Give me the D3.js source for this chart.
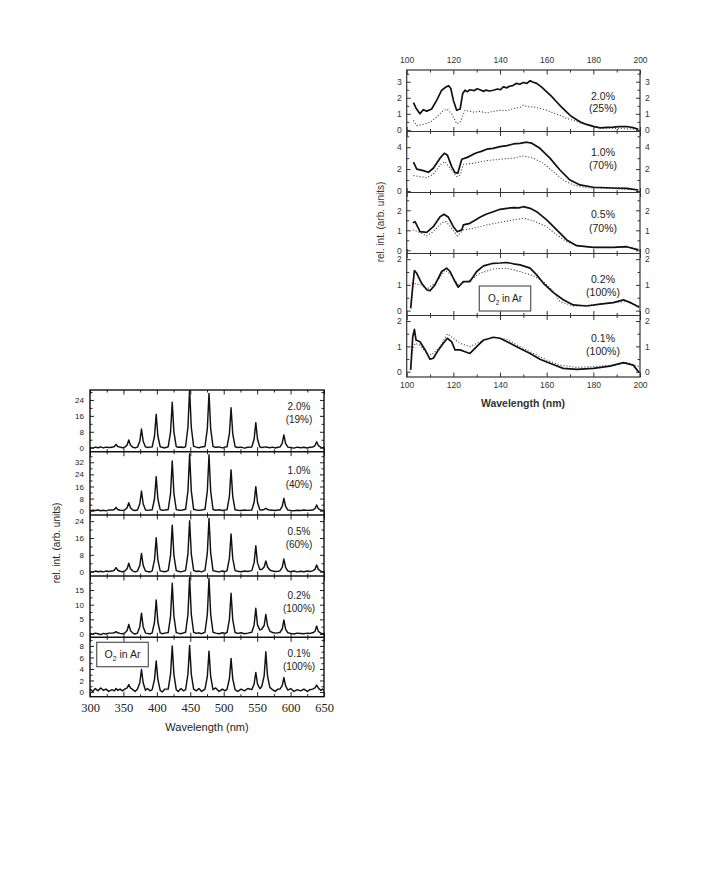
<!DOCTYPE html>
<html><head><meta charset="utf-8">
<script src="https://cdn.jsdelivr.net/npm/d3@7"></script>
<style>body{margin:0;background:#fff}</style>
</head><body><svg id="c" width="701" height="883"></svg>
<script>
// ---------------- DATA ----------------
// Upper figure (VUV, 100-200 nm): solid and dotted spectra per O2 concentration
const vuvConc = ["2.0%", "1.0%", "0.5%", "0.2%", "0.1%"];
const vuvScale = ["(25%)", "(70%)", "(70%)", "(100%)", "(100%)"];
const vuvXTicks = [100, 120, 140, 160, 180, 200];

const u20s = [[102.9,1.7],[104,1.35],[105.7,1.0],[107.1,1.26],[108.6,1.17],[110.7,1.3],[112.9,1.85],[115,2.47],[116.9,2.68],[118,2.75],[118.9,2.58],[120,1.85],[121.4,1.22],[122.9,1.3],[124,2.26],[125,2.47],[126,2.38],[127.1,2.5],[129,2.45],[130.2,2.56],[131.4,2.5],[133,2.4],[134,2.48],[135.5,2.42],[137.1,2.47],[139,2.55],[140.2,2.5],[141.4,2.68],[143,2.62],[144,2.72],[145.5,2.76],[147.1,2.9],[148.5,2.84],[150,2.95],[151.5,2.9],[152.9,3.06],[154,2.98],[155.7,2.9],[158,2.65],[160,2.37],[162,2.1],[164.3,1.74],[166.5,1.4],[168.6,1.11],[170.5,0.85],[172.9,0.63],[175,0.45],[177.1,0.34],[180,0.22],[182.9,0.13],[186,0.16],[188.6,0.17],[191,0.2],[194.3,0.21],[197,0.14],[199.3,0.04]];
const u20d = [[102.9,0.59],[104.3,0.27],[107.1,0.34],[110,0.48],[112.9,0.8],[115.7,1.22],[117.4,1.28],[119.3,1.0],[120.7,0.6],[121.4,0.38],[122.9,0.48],[125,1.22],[128.6,1.11],[131.4,1.15],[134.3,1.05],[137.1,1.15],[140,1.22],[142.9,1.2],[145.7,1.32],[148.6,1.4],[150,1.53],[152,1.45],[154.3,1.43],[157,1.35],[160,1.22],[162.9,1.05],[165.7,0.9],[168.6,0.72],[171.4,0.59],[174.3,0.45],[177.1,0.31],[180,0.2],[182.9,0.13],[188,0.1],[191.4,0.08],[195,0.06],[199.3,0.02]];

const u10s = [[102.9,2.63],[104.3,2.0],[107.1,1.86],[109.3,1.71],[111.4,2.08],[114.3,3.0],[116.1,3.45],[117.4,3.3],[119.3,2.23],[120.7,1.68],[121.9,1.62],[123.6,2.9],[125.7,3.05],[128,3.3],[130,3.5],[132,3.62],[134.3,3.82],[137,3.9],[140,4.06],[143,4.15],[145.7,4.3],[148.5,4.36],[151.4,4.46],[153.6,4.37],[157.1,3.9],[161.4,3.0],[165.7,1.92],[170,1.0],[174.3,0.55],[180,0.34],[188.6,0.27],[194.3,0.24],[199.3,0.09]];
const u10d = [[102.9,1.4],[105.7,1.31],[108.6,1.22],[111.4,1.53],[114.3,2.38],[116.4,2.69],[118.6,2.08],[121.4,1.31],[122.9,1.47],[124.3,2.44],[128.6,2.53],[134.3,2.78],[140,2.9],[145.7,3.0],[150,3.2],[154.3,3.0],[158.6,2.53],[162.9,1.77],[167.1,1.0],[171.4,0.55],[177.1,0.3],[185.7,0.24],[199.3,0.09]];

const u05s = [[102.6,1.38],[103.6,1.43],[105.7,0.93],[108.6,0.9],[111.4,1.18],[114.3,1.68],[116,1.8],[117.9,1.65],[120,1.18],[121.7,0.93],[123.6,1.02],[124.3,1.27],[127.1,1.35],[131.4,1.65],[134,1.8],[137.1,1.93],[140,2.05],[143,2.1],[145.7,2.13],[148,2.12],[150,2.18],[152.9,2.1],[155.7,1.93],[160,1.52],[164.3,1.02],[168.6,0.52],[172.9,0.23],[180,0.15],[188.6,0.15],[194.3,0.18],[199.3,0.02]];
const u05d = [[102.6,1.02],[105,0.93],[108.6,0.72],[111.4,0.93],[115,1.38],[116.9,1.43],[119.3,1.1],[121.7,0.72],[124.3,1.02],[128.6,1.1],[134.3,1.27],[140,1.4],[145.7,1.52],[150,1.6],[154.3,1.48],[160,1.18],[164.3,0.77],[168.6,0.43],[172.9,0.23],[180,0.15],[188.6,0.14],[194.3,0.16],[199.3,0.03]];

const u02s = [[101.7,0.09],[102.6,0.94],[103.3,1.56],[104.3,1.45],[106.4,1.06],[108.6,0.81],[110,0.77],[112.1,1.0],[115,1.52],[117.1,1.65],[118.6,1.52],[120.7,1.13],[122.1,0.91],[124.3,1.13],[127.1,1.13],[130,1.52],[132.9,1.74],[137.1,1.84],[140,1.85],[142.9,1.87],[145.7,1.82],[148.6,1.78],[152.9,1.65],[155.7,1.39],[158.6,1.06],[162.9,0.7],[167.1,0.42],[171.4,0.22],[177.1,0.18],[182.9,0.25],[188.6,0.31],[192.9,0.42],[196.4,0.29],[199.7,0.13]];
const u02d = [[102.1,1.06],[104.3,1.04],[106.4,0.98],[108.6,0.83],[112.9,1.13],[116.4,1.58],[118.6,1.43],[122.1,1.0],[127.1,1.19],[131.4,1.45],[137.1,1.62],[142.9,1.65],[148.6,1.52],[154.3,1.35],[158.6,1.13],[162.9,0.74],[165.7,0.35],[171.4,0.18],[180,0.22],[188.6,0.32],[194.3,0.35],[199.7,0.16]];

const u01s = [[101.7,0.07],[102.6,1.38],[103.3,1.67],[104,1.25],[105.7,1.18],[107.9,0.86],[110,0.49],[111.4,0.53],[113.6,0.86],[115.7,1.12],[117.4,1.32],[119.3,1.18],[120.7,0.86],[122.9,0.86],[125,0.79],[127.1,0.72],[130,0.99],[132.9,1.25],[135,1.3],[137.1,1.36],[140,1.32],[144.3,1.12],[148.6,0.92],[152.9,0.72],[157.1,0.49],[161.4,0.33],[167.1,0.13],[172.9,0.09],[180,0.13],[187.1,0.22],[192.9,0.36],[197.1,0.26],[199.7,-0.04]];
const u01d = [[102.1,0.72],[103.6,1.12],[105.7,1.05],[108.6,0.72],[110.7,0.66],[114.3,0.99],[117.4,1.49],[120,1.32],[122.9,1.12],[127.1,0.99],[131.4,1.18],[137.1,1.36],[142.9,1.28],[148.6,0.99],[154.3,0.72],[160,0.46],[165.7,0.26],[172.9,0.17],[180,0.2],[188.6,0.26],[194.3,0.36],[199.7,0.2]];

// Lower figure (visible, 300-650 nm): spectra sampled on a common wavelength grid
const visConc = ["2.0%", "1.0%", "0.5%", "0.2%", "0.1%"];
const visScale = ["(19%)", "(40%)", "(60%)", "(100%)", "(100%)"];
const visXTicks = [300, 350, 400, 450, 500, 550, 600, 650];
const visNm = [300,304,308,312,316,320,324,328, 333,336.5,339,341.5,345, 348.5, 352,355.5,358,360.5,364, 367.5, 371,374.5,377,379.5,383, 386,390, 393,396.5,399,401.5,405, 408,412, 417,420.5,423,425.5,429, 432,436,440, 443,446.5,449,451.5,455, 459,463,467, 472,475.5,478,480.5,484, 488,493,498,502, 505,508.5,511,513.5,517, 521,526,531,536, 542,545.5,548,550.5,554, 555.5, 557,560.5,563,565.5,569, 573,577,581, 584,587.5,590,592.5,596, 600,605,610,615,620,625,629, 633,636.5,639,641.5,645, 648,650];
const vis20 = [0.2,-0.2,0.3,0.0,0.4,-0.1,0.3,0.1, 0.2,0.6,1.7,0.6,0.3, 0.0, 0.3,1.4,3.9,1.4,0.2, -0.1, 0.3,3.3,9.4,3.3,0.4, 0.1,0.3, 0.4,5.9,16.8,5.9,0.5, 0.2,-0.1, 0.5,8.0,22.8,8.0,0.6, 0.2,0.4,0.1, 0.6,10.3,29.5,10.3,0.7, 0.3,0.0,0.4, 0.6,9.6,27.3,9.6,0.6, 0.2,0.4,-0.1,0.3, 0.5,7.0,20.1,7.0,0.5, 0.1,0.3,-0.2,0.2, 0.4,4.4,12.6,4.4,0.4, 0.2, 0.1,0.3,0.4,0.2,0.0, 0.3,-0.1,0.2, 0.3,2.2,6.4,2.2,0.3, 0.1,-0.2,0.3,0.0,0.2,-0.1,0.2, 0.3,1.1,3.0,1.1,0.3, 0.0,0.2];
const vis10 = [-0.2,0.3,0.1,0.5,0.0,0.3,-0.1,0.4, 0.4,0.8,2.2,0.8,0.3, 0.2, 0.4,1.9,5.3,1.9,0.4, 0.1, 0.5,4.6,13.0,4.6,0.5, 0.2,0.4, 0.6,7.9,22.5,7.9,0.7, 0.3,0.5, 0.8,11.5,32.9,11.5,0.8, 0.4,0.2,0.6, 0.9,13.1,37.5,13.1,0.9, 0.5,0.2,0.4, 0.9,13.0,37.0,13.0,0.8, 0.3,0.6,0.1,0.4, 0.7,9.5,27.0,9.5,0.6, 0.3,0.1,0.4,0.2, 0.5,5.6,15.9,5.6,0.6, 0.5, 0.5,0.8,1.5,0.8,0.4, 0.3,0.1,0.4, 0.4,2.9,8.2,2.9,0.4, 0.2,0.0,0.3,0.1,0.4,0.2,0.3, 0.4,1.3,3.8,1.3,0.4, 0.2,0.3];
const vis05 = [0.1,-0.2,0.3,0.0,0.2,-0.1,0.3,0.1, 0.3,0.7,1.9,0.7,0.2, 0.0, 0.3,1.4,4.0,1.4,0.3, -0.1, 0.3,3.0,8.7,3.0,0.3, 0.1,-0.1, 0.4,5.6,16.1,5.6,0.4, 0.2,0.0, 0.5,7.7,22.1,7.7,0.5, 0.2,-0.1,0.3, 0.6,8.5,24.2,8.5,0.6, 0.1,0.3,-0.1, 0.6,8.9,25.3,8.9,0.5, 0.2,-0.1,0.3,0.0, 0.5,6.3,17.9,6.3,0.5, 0.2,0.0,0.3,0.1, 0.5,4.3,12.3,4.3,1.0, 1.0, 1.1,2.2,5.1,2.2,0.8, 0.3,0.1,0.2, 0.4,2.1,6.0,2.1,0.3, 0.0,0.3,-0.1,0.2,0.0,0.3,0.1, 0.4,1.1,3.2,1.1,0.3, 0.0,0.1];
const vis02 = [0.2,-0.1,0.3,0.1,-0.2,0.2,0.0,0.3, 0.3,0.4,0.8,0.4,0.2, 0.1, 0.3,1.2,3.3,1.2,0.3, 0.0, 0.3,2.5,7.1,2.5,0.3, 0.2,0.0, 0.4,4.1,11.6,4.1,0.4, 0.1,0.3, 0.5,6.1,17.3,6.1,0.5, 0.3,0.1,0.4, 0.6,6.7,19.2,6.7,0.6, 0.2,0.4,0.1, 0.6,6.7,19.0,6.7,0.6, 0.3,0.1,0.4,0.2, 0.5,4.9,13.9,4.9,0.5, 0.2,0.4,0.1,0.3, 0.6,3.1,8.8,3.1,1.4, 1.5, 1.7,2.9,6.7,2.9,1.0, 0.5,0.3,0.4, 0.5,1.7,4.8,1.7,0.4, 0.2,0.0,0.3,0.2,0.1,0.3,0.2, 0.4,0.9,2.7,0.9,0.3, 0.1,0.2];
const vis01 = [0.5,0.1,0.6,0.2,0.7,0.3,0.5,0.1, 0.4,0.2,0.6,0.3,0.5, 0.2, 0.5,0.7,1.3,0.7,0.4, 0.1, 0.5,1.6,3.9,1.6,0.3, 0.6,0.2, 0.4,2.2,5.4,2.2,0.3, 0.0,0.5, 0.5,3.1,8.0,3.1,0.4, 0.1,0.6,0.2, 0.4,3.1,8.1,3.1,0.5, 0.2,0.6,0.1, 0.5,2.7,7.1,2.7,0.4, 0.7,0.1,0.5,0.2, 0.5,2.3,5.8,2.3,0.4, 0.1,0.5,0.2,0.6, 0.4,1.4,3.4,1.4,0.6, 0.7, 1.0,2.8,7.0,2.8,0.8, 0.4,0.1,0.5, 0.5,1.1,2.5,1.1,0.3, 0.6,0.1,0.4,0.2,0.5,0.1,0.4, 0.5,0.7,1.2,0.7,0.3, 0.5,0.2];

// ---------------- LAYOUT ----------------
const svg = d3.select('#c');
svg.append('rect').attr('width', 701).attr('height', 883).attr('fill', '#fff');
const SANS = 'Liberation Sans, Arial, Helvetica, sans-serif';
const SERIF = 'Liberation Serif, Times New Roman, serif';

function range(a, b, s) { const r = []; for (let v = a; v <= b + 1e-9; v += s) r.push(+v.toFixed(4)); return r; }

function drawYTicks(g, y, x0, x1, major, minor, opts) {
  const dom = y.domain();
  const inDom = v => v >= dom[0] && v <= dom[1];
  const mj = major.filter(inDom), mn = minor.filter(inDom);
  const L = g.append('g').attr('transform', `translate(${x0},0)`)
    .call(d3.axisLeft(y).tickValues(mj).tickSize(-opts.maj).tickPadding(opts.pad).tickFormat(d3.format('~g')));
  const Lm = g.append('g').attr('transform', `translate(${x0},0)`)
    .call(d3.axisLeft(y).tickValues(mn).tickSize(-opts.min).tickFormat(''));
  const R = g.append('g').attr('transform', `translate(${x1},0)`)
    .call(d3.axisRight(y).tickValues(mj).tickSize(-opts.maj).tickPadding(opts.pad).tickFormat(opts.right ? d3.format('~g') : ''));
  const Rm = g.append('g').attr('transform', `translate(${x1},0)`)
    .call(d3.axisRight(y).tickValues(mn).tickSize(-opts.min).tickFormat(''));
  [L, Lm, R, Rm].forEach(a => {
    a.select('.domain').remove();
    a.selectAll('line').attr('stroke', opts.color).attr('stroke-width', 1);
    a.selectAll('text').attr('font-family', SANS).attr('font-size', opts.fs).attr('fill', opts.color);
  });
}

function drawXTicks(g, x, yTop, yBot, major, minor, opts) {
  const mk = [];
  mk.push(g.append('g').attr('transform', `translate(0,${yTop})`).call(d3.axisTop(x).tickValues(major).tickSize(-opts.maj).tickPadding(opts.padTop).tickFormat(opts.topLabels ? d3.format('d') : '')));
  mk.push(g.append('g').attr('transform', `translate(0,${yTop})`).call(d3.axisTop(x).tickValues(minor).tickSize(-opts.min).tickFormat('')));
  mk.push(g.append('g').attr('transform', `translate(0,${yBot})`).call(d3.axisBottom(x).tickValues(major).tickSize(-opts.maj).tickPadding(opts.padBot).tickFormat(opts.botLabels ? d3.format('d') : '')));
  mk.push(g.append('g').attr('transform', `translate(0,${yBot})`).call(d3.axisBottom(x).tickValues(minor).tickSize(-opts.min).tickFormat('')));
  mk.forEach(a => {
    a.select('.domain').remove();
    a.selectAll('line').attr('stroke', opts.color).attr('stroke-width', 1);
    a.selectAll('text').attr('font-family', opts.font).attr('font-size', opts.fs).attr('fill', opts.color);
  });
}

function o2Box(g, x0, y0, w, h, fs) {
  g.append('rect').attr('x', x0).attr('y', y0).attr('width', w).attr('height', h)
    .attr('fill', '#fff').attr('stroke', '#555').attr('stroke-width', 1.2);
  const t = g.append('text').attr('x', x0 + w / 2).attr('y', y0 + h / 2 + fs * 0.35)
    .attr('text-anchor', 'middle').attr('font-family', SANS).attr('font-size', fs).attr('fill', '#222');
  t.append('tspan').text('O');
  t.append('tspan').attr('dy', 3).attr('font-size', fs * 0.65).text('2');
  t.append('tspan').attr('dy', -3).text(' in Ar');
}

// ---------------- UPPER FIGURE ----------------
(function () {
  const x = d3.scaleLinear([100, 200], [406.7, 640]);
  const bounds = [70, 131.5, 192.5, 253.5, 315.5, 377];
  const doms = [[-0.1, 3.73], [-0.14, 5.44], [-0.16, 2.89], [-0.19, 2.22], [-0.21, 2.22]];
  const majors = [[0, 1, 2, 3], [0, 2, 4], [0, 1, 2], [0, 1, 2], [0, 1, 2]];
  const minors = [range(0.5, 3.5, 1), [1, 3, 5], [0.5, 1.5, 2.5], [0.5, 1.5], [0.5, 1.5]];
  const solid = [u20s, u10s, u05s, u02s, u01s];
  const dotted = [u20d, u10d, u05d, u02d, u01d];
  const labOff = [[26, 38.5], [21, 33.5], [22, 36], [26, 39], [23, 36]];
  const col = '#333';
  const g = svg.append('g');
  for (let i = 0; i < 5; i++) {
    const top = bounds[i], bot = bounds[i + 1];
    const y = d3.scaleLinear(doms[i], [bot, top]);
    const cid = 'uclip' + i;
    g.append('clipPath').attr('id', cid).append('rect')
      .attr('x', x(100)).attr('y', top).attr('width', x(200) - x(100)).attr('height', bot - top);
    const pg = g.append('g').attr('clip-path', `url(#${cid})`);
    const line = d3.line().x(d => x(d[0])).y(d => y(d[1]));
    pg.append('path').attr('d', line(dotted[i])).attr('fill', 'none')
      .attr('stroke', '#444').attr('stroke-width', 1.1).attr('stroke-dasharray', '1.1,1.9');
    pg.append('path').attr('d', line(solid[i])).attr('fill', 'none')
      .attr('stroke', '#111').attr('stroke-width', 1.7).attr('stroke-linejoin', 'round');
    drawYTicks(g, y, x(100), x(200), majors[i], minors[i],
      { maj: 4, min: 2.5, pad: 5, fs: 8.5, color: col, right: true });
    drawXTicks(g, x, top, bot, vuvXTicks, range(110, 190, 20),
      { maj: 4.5, min: 2.5, padTop: 7, padBot: 5, topLabels: i === 0, botLabels: i === 4, fs: 8.5, font: SANS, color: col });
    g.append('text').attr('x', 603).attr('y', top + labOff[i][0] + 3.7).attr('text-anchor', 'middle')
      .attr('font-family', SANS).attr('font-size', 10.5).attr('fill', '#222').text(vuvConc[i]);
    g.append('text').attr('x', 603).attr('y', top + labOff[i][1] + 3.7).attr('text-anchor', 'middle')
      .attr('font-family', SANS).attr('font-size', 10.5).attr('fill', '#222').text(vuvScale[i]);
  }
  g.append('rect').attr('x', x(100)).attr('y', bounds[0]).attr('width', x(200) - x(100))
    .attr('height', bounds[5] - bounds[0]).attr('fill', 'none').attr('stroke', '#333').attr('stroke-width', 1.2);
  for (let i = 1; i < 5; i++) {
    g.append('line').attr('x1', x(100)).attr('x2', x(200)).attr('y1', bounds[i]).attr('y2', bounds[i])
      .attr('stroke', '#333').attr('stroke-width', 1.2);
  }
  o2Box(g, 479.3, 286, 51.4, 25, 10);
  g.append('text').attr('transform', `translate(384,222) rotate(-90)`).attr('text-anchor', 'middle')
    .attr('font-family', SANS).attr('font-size', 10).attr('fill', '#333').text('rel. int. (arb. units)');
  g.append('text').attr('x', 523).attr('y', 407).attr('text-anchor', 'middle')
    .attr('font-family', SANS).attr('font-size', 10.5).attr('font-weight', 'bold').attr('fill', '#333').text('Wavelength (nm)');
})();

// ---------------- LOWER FIGURE ----------------
(function () {
  const x = d3.scaleLinear([300, 650], [90, 324]);
  const bounds = [390, 451.7, 515, 576, 637.3, 696.7];
  const doms = [[-2, 29], [-2.85, 39], [-2.04, 26.9], [-1.13, 19.8], [-0.82, 9.5]];
  const majors = [[0, 8, 16, 24], [0, 8, 16, 24, 32], [0, 8, 16, 24], [0, 5, 10, 15], [0, 2, 4, 6, 8]];
  const minors = [[4, 12, 20, 28], [4, 12, 20, 28, 36], [4, 12, 20], [2.5, 7.5, 12.5, 17.5], [1, 3, 5, 7, 9]];
  const series = [vis20, vis10, vis05, vis02, vis01];
  const labOff = [[16, 29.5], [18.5, 33], [16, 29], [19, 32.5], [16, 29.5]];
  const col = '#222';
  const g = svg.append('g');
  const pts = s => visNm.map((nm, k) => [nm, s[k]]);
  for (let i = 0; i < 5; i++) {
    const top = bounds[i], bot = bounds[i + 1];
    const y = d3.scaleLinear(doms[i], [bot, top]);
    const cid = 'lclip' + i;
    g.append('clipPath').attr('id', cid).append('rect')
      .attr('x', x(300)).attr('y', top).attr('width', x(650) - x(300)).attr('height', bot - top);
    const line = d3.line().x(d => x(d[0])).y(d => y(d[1]));
    g.append('g').attr('clip-path', `url(#${cid})`).append('path').attr('d', line(pts(series[i])))
      .attr('fill', 'none').attr('stroke', '#111').attr('stroke-width', 1.45).attr('stroke-linejoin', 'round');
    drawYTicks(g, y, x(300), x(650), majors[i], minors[i],
      { maj: 4, min: 2.5, pad: 6, fs: 8, color: col, right: false });
    drawXTicks(g, x, top, bot, visXTicks, range(325, 625, 50),
      { maj: 4.5, min: 2.5, padTop: 6, padBot: 6, topLabels: false, botLabels: i === 4, fs: 12.5, font: SERIF, color: col });
    g.append('text').attr('x', 299).attr('y', top + labOff[i][0] + 3.6).attr('text-anchor', 'middle')
      .attr('font-family', SANS).attr('font-size', 10).attr('fill', '#222').text(visConc[i]);
    g.append('text').attr('x', 299).attr('y', top + labOff[i][1] + 3.6).attr('text-anchor', 'middle')
      .attr('font-family', SANS).attr('font-size', 10).attr('fill', '#222').text(visScale[i]);
  }
  g.append('rect').attr('x', x(300)).attr('y', bounds[0]).attr('width', x(650) - x(300))
    .attr('height', bounds[5] - bounds[0]).attr('fill', 'none').attr('stroke', '#111').attr('stroke-width', 1.4);
  for (let i = 1; i < 5; i++) {
    g.append('line').attr('x1', x(300)).attr('x2', x(650)).attr('y1', bounds[i]).attr('y2', bounds[i])
      .attr('stroke', '#111').attr('stroke-width', 1.4);
  }
  o2Box(g, 96.7, 642.3, 51.6, 24.4, 10.5);
  g.append('text').attr('transform', `translate(60,543) rotate(-90)`).attr('text-anchor', 'middle')
    .attr('font-family', SANS).attr('font-size', 10).attr('fill', '#222').text('rel. int. (arb. units)');
  g.append('text').attr('x', 207).attr('y', 731).attr('text-anchor', 'middle')
    .attr('font-family', SANS).attr('font-size', 11).attr('fill', '#222').text('Wavelength (nm)');
})();
</script>
</body></html>
